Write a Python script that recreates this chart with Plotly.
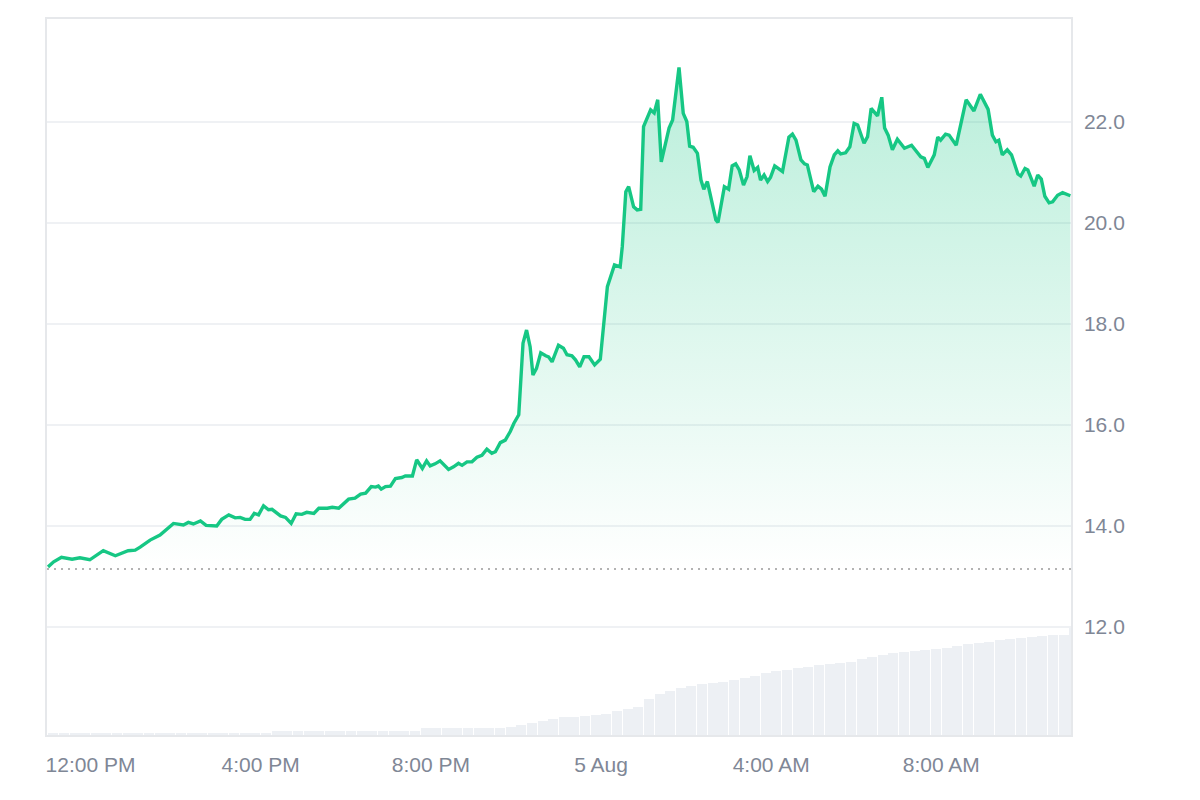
import pandas as pd
import plotly.graph_objects as go

# ---------------- data ----------------
START = "2024-08-04 11:00"

# price series: minutes after START, price (USD)
price_minutes = [
    0, 8, 19, 34, 45, 59, 78, 95, 113, 123, 130, 144, 158, 177, 191, 198, 205, 215, 223, 238,
    245, 255, 264, 271, 278, 285, 291, 297, 304, 311, 316, 328, 335, 343, 350, 358, 365, 375, 382, 394,
    401, 410, 424, 433, 441, 448, 456, 462, 466, 470, 476, 483, 490, 499, 504, 514, 520, 528, 534, 539,
    546, 553, 565, 572, 579, 584, 591, 598, 605, 612, 619, 626, 631, 638, 645, 652, 657, 664, 670, 675,
    680, 684, 689, 695, 702, 706, 711, 720, 727, 732, 739, 744, 750, 756, 763, 771, 779, 789, 799, 807,
    810, 815, 819, 826, 831, 836, 840, 850, 855, 860, 865, 876, 881, 890, 896, 901, 905, 910, 916, 921,
    925, 930, 942, 945, 954, 960, 965, 970, 975, 981, 986, 990, 996, 1001, 1005, 1010, 1015, 1019, 1025, 1030,
    1036, 1045, 1050, 1055, 1062, 1067, 1071, 1080, 1086, 1091, 1096, 1103, 1109, 1114, 1118, 1125, 1131, 1137, 1142, 1151,
    1156, 1161, 1170, 1176, 1180, 1185, 1191, 1198, 1208, 1218, 1231, 1236, 1241, 1250, 1255, 1259, 1266, 1271, 1281, 1295,
    1306, 1315, 1321, 1326, 1332, 1337, 1341, 1346, 1353, 1359, 1368, 1372, 1378, 1382, 1391, 1396, 1401, 1406, 1412, 1417,
    1424, 1431, 1442,
]
prices = [
    13.19, 13.29, 13.38, 13.34, 13.37, 13.33, 13.51, 13.41, 13.51, 13.52, 13.58, 13.72, 13.82, 14.05, 14.02, 14.07, 14.04, 14.10, 14.01, 14.00,
    14.13, 14.22, 14.16, 14.17, 14.13, 14.13, 14.25, 14.22, 14.40, 14.32, 14.33, 14.20, 14.17, 14.05, 14.24, 14.23, 14.27, 14.25, 14.35, 14.35,
    14.37, 14.35, 14.53, 14.55, 14.63, 14.65, 14.78, 14.77, 14.79, 14.73, 14.78, 14.79, 14.94, 14.96, 14.99, 14.99, 15.31, 15.14, 15.29, 15.19,
    15.23, 15.29, 15.12, 15.17, 15.24, 15.20, 15.27, 15.27, 15.36, 15.40, 15.52, 15.44, 15.47, 15.65, 15.70, 15.87, 16.03, 16.20, 17.62, 17.88,
    17.55, 16.99, 17.12, 17.43, 17.37, 17.35, 17.25, 17.58, 17.52, 17.39, 17.37, 17.29, 17.15, 17.35, 17.35, 17.19, 17.30, 18.74, 19.17, 19.13,
    19.53, 20.62, 20.72, 20.32, 20.26, 20.27, 21.91, 22.24, 22.18, 22.44, 21.21, 21.88, 22.04, 23.08, 22.17, 22.01, 21.52, 21.50, 21.38, 20.85,
    20.67, 20.82, 20.06, 20.01, 20.72, 20.67, 21.13, 21.17, 21.05, 20.75, 20.92, 21.33, 21.04, 21.10, 20.85, 20.95, 20.82, 20.90, 21.13, 21.08,
    21.02, 21.70, 21.76, 21.64, 21.25, 21.17, 21.15, 20.62, 20.73, 20.67, 20.53, 21.11, 21.35, 21.43, 21.37, 21.39, 21.51, 21.97, 21.94, 21.58,
    21.71, 22.27, 22.12, 22.49, 21.88, 21.74, 21.45, 21.66, 21.48, 21.54, 21.31, 21.28, 21.10, 21.35, 21.70, 21.64, 21.76, 21.74, 21.54, 22.44,
    22.22, 22.55, 22.37, 22.25, 21.74, 21.61, 21.64, 21.35, 21.45, 21.35, 20.97, 20.93, 21.08, 21.05, 20.73, 20.95, 20.87, 20.53, 20.40, 20.42,
    20.55, 20.60, 20.54,
]
open_price = 13.15  # reference (opening) price shown as dotted line

# volume bars: one every 15 minutes (minutes after START of each bar's centre), in USD millions
volume_minutes = [15 * i + 7.5 for i in range(96)] + [1441.5]
volume = (
    [0.5] * 21 + [1.0] * 14 + [1.75] * 8 + [2.0]
    + [2.5, 3.1, 3.5, 4.0, 4.4, 4.5, 4.75, 5.0, 5.25, 6.0,
       6.5, 7.0, 9.0, 10.25, 11.0, 11.75, 12.25, 12.75, 13.0, 13.25,
       13.75, 14.25, 14.75, 15.5, 16.0, 16.25, 16.75, 17.0, 17.5, 17.75,
       18.0, 18.25, 19.0, 19.5, 20.0, 20.5, 20.75, 21.0, 21.25, 21.5,
       21.75, 22.25, 22.75, 23.0, 23.25, 23.75, 24.0, 24.25, 24.5, 24.75,
       25.0, 25.0]
    + [26.75]
)

x_ticks = ["2024-08-04 12:00", "2024-08-04 16:00", "2024-08-04 20:00",
           "2024-08-05 00:00", "2024-08-05 04:00", "2024-08-05 08:00"]
x_tick_labels = ["12:00 PM", "4:00 PM", "8:00 PM", "5 Aug", "4:00 AM", "8:00 AM"]
y_ticks = [12, 14, 16, 18, 20, 22]
y_tick_labels = ["12.0", "14.0", "16.0", "18.0", "20.0", "22.0"]

# ---------------- build ----------------
start = pd.Timestamp(START)
t_price = [start + pd.Timedelta(minutes=m) for m in price_minutes]
t_vol = [start + pd.Timedelta(minutes=m) for m in volume_minutes]
bar_widths = [15 * 60 * 1000 * 0.94] * 96 + [2.2 * 60 * 1000]

x_range = [start - pd.Timedelta(seconds=84), start + pd.Timedelta(minutes=1442, seconds=54)]

GREEN = "#16c784"
GREY_TXT = "#7f8796"

fig = go.Figure()

# volume (secondary axis, bottom)
fig.add_trace(go.Bar(
    x=t_vol, y=volume, width=bar_widths, yaxis="y2",
    marker=dict(color="#edf0f4", line=dict(width=0)),
    hoverinfo="skip", showlegend=False,
))

# baseline (dotted) used also as fill floor
fig.add_trace(go.Scatter(
    x=[x_range[0], x_range[1]], y=[open_price, open_price], mode="lines",
    line=dict(color="#9a9a9a", width=1.5, dash="2px,5px"),
    hoverinfo="skip", showlegend=False,
))

fig.add_trace(go.Scatter(
    x=t_price, y=prices, mode="lines",
    line=dict(color=GREEN, width=3.4),
    fill="tonexty",
    fillgradient=dict(
        type="vertical",
        colorscale=[[0, "rgba(22,199,132,0.0)"], [1, "rgba(22,199,132,0.30)"]],
        start=open_price, stop=max(prices),
    ),
    showlegend=False,
))

fig.update_layout(
    width=1200, height=800,
    margin=dict(l=47, r=129, t=19, b=65),
    paper_bgcolor="white", plot_bgcolor="white",
    font=dict(family="Liberation Sans, Arial, sans-serif", size=21, color=GREY_TXT),
    bargap=0,
    xaxis=dict(
        range=x_range, tickvals=x_ticks, ticktext=x_tick_labels,
        showgrid=False, zeroline=False,
        showline=True, mirror=True, linecolor="#e6e8eb", linewidth=1.5,
        ticks="outside", ticklen=10, tickcolor="rgba(0,0,0,0)",
    ),
    yaxis=dict(
        range=[9.86, 24.04], side="right", tickvals=y_ticks, ticktext=y_tick_labels,
        showgrid=True, gridcolor="#eff1f4", gridwidth=1.5, zeroline=False,
        showline=True, mirror=True, linecolor="#e6e8eb", linewidth=1.5,
        ticks="outside", ticklen=7, tickcolor="rgba(0,0,0,0)",
    ),
    yaxis2=dict(
        overlaying="y", range=[0, max(volume) * 716 / 107], visible=False,
        showgrid=False, zeroline=False,
    ),
    showlegend=False,
)

fig.write_html("out.html")
